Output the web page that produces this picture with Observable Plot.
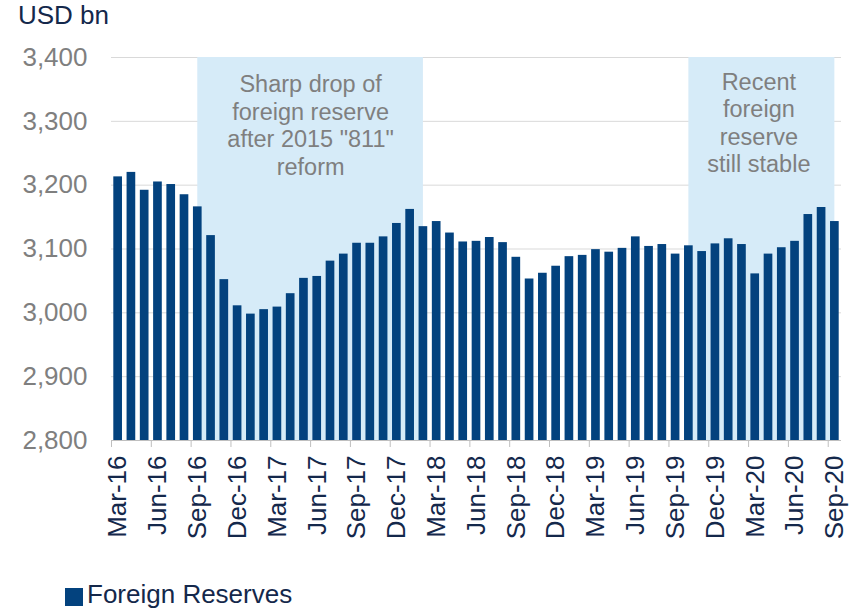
<!DOCTYPE html>
<html>
<head>
<meta charset="utf-8">
<script src="https://cdn.jsdelivr.net/npm/d3@7"></script>
<script src="https://cdn.jsdelivr.net/npm/@observablehq/plot@0.6"></script>
<style>
  html, body { margin: 0; padding: 0; background: #ffffff; overflow: hidden; }
  #wrap { position: relative; width: 854px; height: 611px; overflow: hidden; background: #ffffff;
          font-family: "Liberation Sans", Arial, sans-serif; }
  #unit { position: absolute; left: 18px; top: 0; height: 30px; line-height: 30px; font-size: 26px; color: #14284b; }
  #chart { position: absolute; left: 0; top: 30px; }
  #legend-swatch { position: absolute; left: 65px; top: 588px; width: 18px; height: 18px; background: #03427e; }
  #legend-text { position: absolute; left: 87px; top: 581px; height: 28px; line-height: 26px; font-size: 26px; color: #14284b; white-space: nowrap; }
</style>
</head>
<body>
<div id="wrap">
  <div id="unit">USD bn</div>
  <div id="chart"></div>
  <div id="legend-swatch"></div>
  <div id="legend-text">Foreign Reserves</div>
</div>
<script>
// ---- Data ----
const months = [
  "Mar-16","Apr-16","May-16","Jun-16","Jul-16","Aug-16","Sep-16","Oct-16","Nov-16","Dec-16",
  "Jan-17","Feb-17","Mar-17","Apr-17","May-17","Jun-17","Jul-17","Aug-17","Sep-17","Oct-17","Nov-17","Dec-17",
  "Jan-18","Feb-18","Mar-18","Apr-18","May-18","Jun-18","Jul-18","Aug-18","Sep-18","Oct-18","Nov-18","Dec-18",
  "Jan-19","Feb-19","Mar-19","Apr-19","May-19","Jun-19","Jul-19","Aug-19","Sep-19","Oct-19","Nov-19","Dec-19",
  "Jan-20","Feb-20","Mar-20","Apr-20","May-20","Jun-20","Jul-20","Aug-20","Sep-20"
];
const reserves = [
  3213, 3220, 3192, 3205, 3201, 3185, 3166, 3121, 3052, 3011,
  2998, 3005, 3009, 3030, 3054, 3057, 3081, 3092, 3109, 3109, 3119, 3140,
  3162, 3135, 3143, 3125, 3111, 3112, 3118, 3110, 3087, 3053, 3062, 3073,
  3088, 3090, 3099, 3095, 3101, 3119, 3104, 3107, 3092, 3105, 3096, 3108,
  3116, 3107, 3061, 3092, 3102, 3112, 3154, 3165, 3143
];
const tickLabels = ["Mar-16","Jun-16","Sep-16","Dec-16","Mar-17","Jun-17","Sep-17","Dec-17",
  "Mar-18","Jun-18","Sep-18","Dec-18","Mar-19","Jun-19","Sep-19","Dec-19","Mar-20","Jun-20","Sep-20"];
const yTicks = [2800, 2900, 3000, 3100, 3200, 3300, 3400];
const regionStart = ["Sep-16", "Oct-19"];
const regionEnd = ["Feb-18", "Sep-20"];
const regionText = [
  "Sharp drop of\nforeign reserve\nafter 2015 \"811\"\nreform",
  "Recent\nforeign\nreserve\nstill stable"
];
const seriesName = "Foreign Reserves";

// ---- Build tables ----
const yMin = d3.min(yTicks), yMax = d3.max(yTicks);
const data = months.map((m, i) => ({month: m, i, value: reserves[i]}));
const regions = regionStart.map((s, k) => ({
  x1: months.indexOf(s) + 0.5,
  x2: months.indexOf(regionEnd[k]) + 0.5,
  text: regionText[k],
  k
}));
const boundaryTicks = tickLabels.map(l => months.indexOf(l));
const labelTicks = tickLabels.map(l => months.indexOf(l) + 0.5);

const navy = "#14284b", gray = "#7f7f7f";

const chart = Plot.plot({
  width: 854,
  height: 545,
  marginTop: 27,
  marginBottom: 135,
  marginLeft: 111,
  marginRight: 13,
  x: {type: "linear", domain: [0, months.length]},
  y: {type: "linear", domain: [yMin, yMax]},
  style: {fontFamily: "'Liberation Sans', Arial, sans-serif", background: "#ffffff", overflow: "visible"},
  marks: [
    Plot.gridY(yTicks, {stroke: "#d9d9d9", strokeOpacity: 1}),
    Plot.rect(regions, {x1: "x1", x2: "x2", y1: yMin, y2: yMax, fill: "#d6ebf8"}),
    Plot.ruleY([yMin], {stroke: "#bfbfbf"}),
    Plot.rectY(data, {x: "i", interval: 1, y1: yMin, y2: "value", insetLeft: 2.3, insetRight: 2.3, fill: "#03427e"}),
    Plot.axisY(yTicks, {anchor: "left", tickSize: 0, tickPadding: 24, tickFormat: d3.format(","),
      fontSize: 26, fill: gray, label: null}),
    Plot.axisX(boundaryTicks, {anchor: "bottom", tickSize: 7, stroke: "#bfbfbf", fill: "none", label: null}),
    Plot.axisX(labelTicks, {anchor: "bottom", tickSize: 0, tickPadding: 15, tickRotate: -90,
      textAnchor: "end", lineAnchor: "middle", tickFormat: v => months[Math.floor(v)],
      fontSize: 26, fill: navy, label: null}),
    Plot.text(regions.filter(d => d.k === 0), {x: d => (d.x1 + d.x2) / 2, y: yMax, text: "text",
      lineAnchor: "top", dy: 15.5, fontSize: 23.5, lineHeight: 1.165, fill: gray}),
    Plot.text(regions.filter(d => d.k === 1), {x: d => (d.x1 + d.x2) / 2, y: yMax, text: "text",
      lineAnchor: "top", dx: -3, dy: 13, fontSize: 23.5, lineHeight: 1.165, fill: gray})
  ]
});
document.getElementById("chart").appendChild(chart);
document.getElementById("legend-text").textContent = seriesName;
</script>
</body>
</html>
